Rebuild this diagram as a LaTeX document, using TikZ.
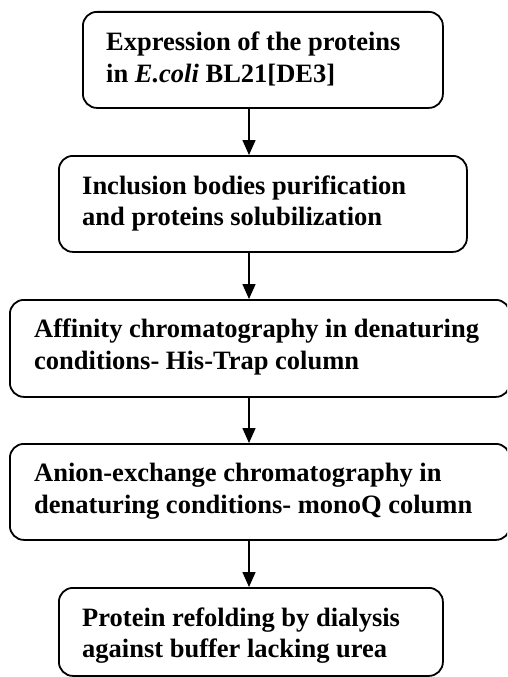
\documentclass[tikz,border=0pt]{standalone}
\usepackage{fontspec}
\setmainfont{Liberation Serif}
\usetikzlibrary{arrows.meta}
\tikzset{
  stepbox/.style={draw=black, line width=1.8pt, rounded corners=14pt, inner sep=0pt, anchor=north west},
  steptext/.style={anchor=base west, inner sep=0pt, align=left, font=\fontsize{26.5}{31.5}\selectfont\bfseries},
  flow/.style={line width=1.5pt, -{Triangle[width=13pt,length=15pt]}}
}
\begin{document}
\begin{tikzpicture}[x=1pt,y=1pt]
\useasboundingbox (0,0) rectangle (507,-677);
\begin{scope}
\clip (0,0) rectangle (507,-677);
\node[stepbox, minimum width=360pt, minimum height=96pt] (b1) at (82,-11) {};
\node[stepbox, minimum width=408pt, minimum height=96pt] (b2) at (58,-155) {};
\node[stepbox, minimum width=500pt, minimum height=97pt] (b3) at (9,-299) {};
\node[stepbox, minimum width=500pt, minimum height=96pt] (b4) at (9,-443) {};
\node[stepbox, minimum width=384pt, minimum height=88pt] (b5) at (58,-587) {};
\end{scope}
\node[steptext] (t1) at (106,-82) {Expression of the proteins\\in \textit{E.coli} BL21[DE3]};
\node[steptext] (t2) at (82,-225.5) {Inclusion bodies purification\\and proteins solubilization};
\node[steptext] (t3) at (34,-369) {Affinity chromatography in denaturing\\conditions- His-Trap column};
\node[steptext] (t4) at (34,-513) {Anion-exchange chromatography in\\denaturing conditions- monoQ column};
\node[steptext] (t5) at (82,-657.5) {Protein refolding by dialysis\\against buffer lacking urea};
\coordinate (ax) at (249,0);
\draw[flow] (b1.south -| ax) -- (b2.north -| ax);
\draw[flow] (b2.south -| ax) -- (b3.north -| ax);
\draw[flow] (b3.south -| ax) -- (b4.north -| ax);
\draw[flow] (b4.south -| ax) -- (b5.north -| ax);
\end{tikzpicture}
\end{document}
